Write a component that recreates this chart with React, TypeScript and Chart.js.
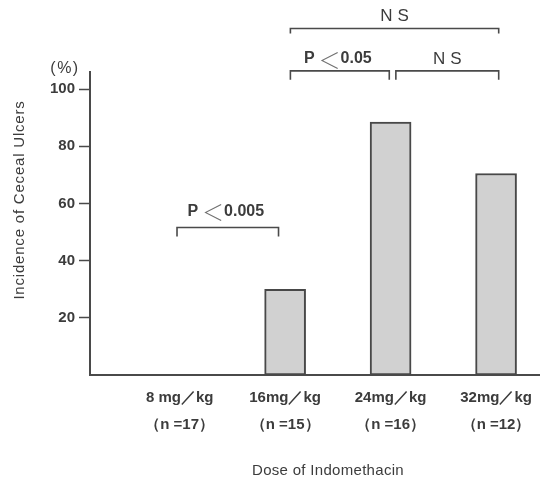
import React, { useEffect, useRef } from "react";
import { Chart, registerables } from "chart.js";

Chart.register(...registerables);

// ---- data ----
const doses = [8, 16, 24, 32];
const doseLabels = ["8 mg／kg", "16mg／kg", "24mg／kg", "32mg／kg"];
const sampleSizes = ["（n =17）", "（n =15）", "（n =16）", "（n =12）"];
const incidence = [0, 30, 88.5, 70.5];
const yTickValues = [20, 40, 60, 80, 100];

// significance brackets (x in dose units, level in % units)
const bracketFrom = [7.8, 16.4, 24.4, 16.4];
const bracketTo = [15.5, 23.9, 32.2, 32.2];
const bracketLevel = [51.6, 106.4, 106.4, 121.2];
const bracketLabels = ["P＜0.005", "P＜0.05", "NS", "NS"];

const yTitle = "Incidence of Ceceal Ulcers";
const xTitle = "Dose of Indomethacin";
const unitLabel = "(%)";

const FONT = '"Liberation Sans", Arial, sans-serif';
const CJK = '"Noto Sans CJK JP", sans-serif';
const INK = "#3c3c3c";
const LINE = "#4a4a4a";

function drawPLabel(ctx: any, label: string, cx: number, cy: number) {
  const parts = label.split("＜");
  const bold = "bold 16px " + FONT;
  const light = "300 22px " + CJK;
  ctx.textBaseline = "middle";
  ctx.textAlign = "left";
  ctx.font = bold;
  const w1 = ctx.measureText(parts[0]).width;
  const w2 = ctx.measureText(parts[1]).width;
  ctx.font = light;
  const wl = ctx.measureText("＜").width;
  const gap = 4;
  const total = w1 + gap + wl + w2;
  let xx = cx - total / 2;
  ctx.font = bold;
  ctx.fillStyle = INK;
  ctx.fillText(parts[0], xx, cy);
  xx += w1 + gap;
  ctx.font = light;
  ctx.fillStyle = "#707070";
  ctx.fillText("＜", xx, cy + 0.5);
  xx += wl;
  ctx.font = bold;
  ctx.fillStyle = INK;
  ctx.fillText(parts[1], xx, cy);
}

const overlay = {
  id: "overlay",
  afterDraw(chart: any) {
    const { ctx, scales, chartArea } = chart;
    const x = scales.x;
    const y = scales.y;
    ctx.save();
    ctx.strokeStyle = LINE;
    ctx.fillStyle = INK;
    ctx.lineWidth = 1.6;
    const drops = [9, 9, 9, 5];
    const offs = [16, 12, 12, 12];
    for (let i = 0; i < bracketLabels.length; i++) {
      const x1 = x.getPixelForValue(bracketFrom[i]);
      const x2 = x.getPixelForValue(bracketTo[i]);
      const yy = y.getPixelForValue(bracketLevel[i]);
      ctx.beginPath();
      ctx.moveTo(x1, yy + drops[i]);
      ctx.lineTo(x1, yy);
      ctx.lineTo(x2, yy);
      ctx.lineTo(x2, yy + drops[i]);
      ctx.stroke();
      const label = bracketLabels[i];
      if (label.indexOf("＜") >= 0) {
        drawPLabel(ctx, label, (x1 + x2) / 2 - 2, yy - offs[i]);
      } else {
        ctx.font = "17px " + FONT;
        ctx.fillStyle = INK;
        (ctx as any).letterSpacing = "5px";
        ctx.textAlign = "center";
        ctx.textBaseline = "middle";
        ctx.fillText(label, (x1 + x2) / 2 + 2.5, yy - offs[i]);
        (ctx as any).letterSpacing = "0px";
      }
    }
    // unit label
    ctx.fillStyle = INK;
    ctx.font = "16px " + FONT;
    (ctx as any).letterSpacing = "1.5px";
    ctx.textAlign = "center";
    ctx.textBaseline = "middle";
    ctx.fillText(unitLabel, chartArea.left - 25, chartArea.top - 3);
    (ctx as any).letterSpacing = "0px";
    // y title
    ctx.save();
    ctx.translate(20, 200);
    ctx.rotate(-Math.PI / 2);
    ctx.font = "15px " + FONT;
    (ctx as any).letterSpacing = "0.8px";
    ctx.textAlign = "center";
    ctx.textBaseline = "middle";
    ctx.fillText(yTitle, 0, 0);
    ctx.restore();
    // x title
    ctx.font = "15px " + FONT;
    (ctx as any).letterSpacing = "0.3px";
    ctx.textAlign = "center";
    ctx.textBaseline = "alphabetic";
    ctx.fillText(xTitle, 328, 475);
    ctx.restore();
  },
};

export default function App() {
  const ref = useRef<HTMLCanvasElement>(null);
  useEffect(() => {
    if (!ref.current) return;
    Chart.defaults.font.family = FONT;
    const chart = new Chart(ref.current, {
      type: "bar",
      data: {
        datasets: [
          {
            data: doses.map((d, i) => ({ x: d, y: incidence[i] })),
            backgroundColor: "#d1d1d1",
            borderColor: "#484848",
            borderWidth: 2,
            borderSkipped: false,
            barThickness: 41,
          },
        ],
      },
      options: {
        animation: false,
        responsive: true,
        maintainAspectRatio: false,
        layout: { padding: { left: 0, top: 72, right: 1, bottom: 0 } },
        plugins: { legend: { display: false }, tooltip: { enabled: false } },
        scales: {
          x: {
            type: "linear",
            offset: false,
            min: 1.2,
            max: 35.3,
            afterBuildTicks: (s: any) => {
              s.ticks = doses.map((v) => ({ value: v }));
            },
            afterFit: (s: any) => {
              s.height = 104;
            },
            grid: { display: false, drawTicks: false, offset: false },
            border: { display: true, color: LINE, width: 2 },
            ticks: {
              padding: 10,
              color: INK,
              font: { size: 15, weight: "bold", lineHeight: 1.75 },
              maxRotation: 0,
              autoSkip: false,
              callback: (v: any) => {
                const i = doses.indexOf(Number(v));
                return i >= 0 ? [doseLabels[i], sampleSizes[i]] : "";
              },
            },
          },
          y: {
            type: "linear",
            min: 0,
            max: 106,
            afterBuildTicks: (s: any) => {
              s.ticks = yTickValues.map((v) => ({ value: v }));
            },
            afterFit: (s: any) => {
              s.width = 90;
            },
            grid: {
              drawOnChartArea: false,
              drawTicks: true,
              tickLength: 11,
              tickColor: LINE,
              tickWidth: 1.5,
            },
            border: { display: true, color: LINE, width: 2 },
            ticks: {
              padding: 4,
              color: INK,
              font: { size: 15, weight: "bold" },
            },
          },
        },
      },
      plugins: [overlay],
    });
    return () => chart.destroy();
  }, []);
  return (
    <div style={{ position: "absolute", left: 0, top: 0, width: 542, height: 479 }}>
      <canvas ref={ref} />
    </div>
  );
}
